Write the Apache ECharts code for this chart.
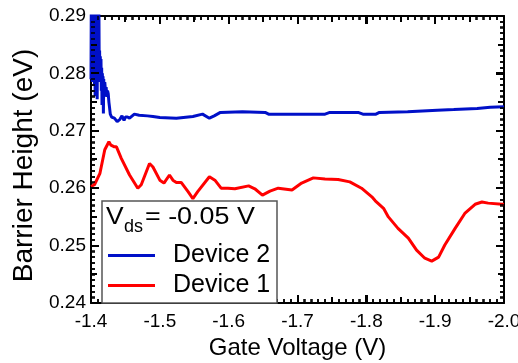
<!DOCTYPE html>
<html><head><meta charset="utf-8">
<script src="https://cdn.jsdelivr.net/npm/echarts@6/dist/echarts.min.js"></script>
<style>html,body{margin:0;padding:0;background:#fff}#c{width:518px;height:363px}</style>
</head><body><div id="c"></div>
<script>
// Gate voltage (V) and barrier height (eV)
const device1V = [-1.400,-1.405,-1.413,-1.420,-1.426,-1.429,-1.431,-1.434,-1.437,-1.444,-1.456,-1.468,-1.473,-1.485,-1.490,-1.500,-1.506,-1.514,-1.519,-1.524,-1.531,-1.541,-1.548,-1.555,-1.572,-1.580,-1.589,-1.599,-1.609,-1.629,-1.638,-1.649,-1.660,-1.672,-1.692,-1.706,-1.723,-1.740,-1.759,-1.776,-1.793,-1.808,-1.813,-1.825,-1.832,-1.846,-1.861,-1.873,-1.885,-1.895,-1.905,-1.914,-1.929,-1.943,-1.958,-1.968,-1.977,-1.997,-2.000];
const device1B = [0.2603,0.2606,0.2626,0.2667,0.2681,0.2675,0.2678,0.2672,0.2672,0.2652,0.2623,0.2600,0.2606,0.2643,0.2637,0.2614,0.2609,0.2623,0.2614,0.2610,0.2610,0.2594,0.2582,0.2594,0.2620,0.2614,0.2600,0.2600,0.2599,0.2604,0.2599,0.2588,0.2595,0.2600,0.2597,0.2609,0.2618,0.2616,0.2615,0.2611,0.2600,0.2585,0.2578,0.2565,0.2550,0.2530,0.2513,0.2492,0.2478,0.2473,0.2480,0.2501,0.2530,0.2556,0.2572,0.2576,0.2574,0.2572,0.2572];
const device2V = [-1.4000,-1.4005,-1.4010,-1.4015,-1.4020,-1.4025,-1.4030,-1.4035,-1.4040,-1.4045,-1.4050,-1.4055,-1.4060,-1.4065,-1.4070,-1.4075,-1.4080,-1.4085,-1.4090,-1.4095,-1.4100,-1.4105,-1.4110,-1.4115,-1.4120,-1.4125,-1.4130,-1.4135,-1.4140,-1.4145,-1.4150,-1.4155,-1.4160,-1.4165,-1.4170,-1.4175,-1.4180,-1.4185,-1.4190,-1.4200,-1.4210,-1.4220,-1.4230,-1.4240,-1.4250,-1.4260,-1.4270,-1.4280,-1.4300,-1.4340,-1.4380,-1.4420,-1.4450,-1.4480,-1.4500,-1.4530,-1.4560,-1.4630,-1.4700,-1.4820,-1.4900,-1.5000,-1.5240,-1.5480,-1.5620,-1.5720,-1.5790,-1.5880,-1.6200,-1.6530,-1.6580,-1.7400,-1.7470,-1.7880,-1.7950,-1.8140,-1.8190,-1.8600,-1.9030,-1.9270,-1.9610,-1.9800,-2.0000];
const device2B = [0.2790,0.2950,0.2800,0.2950,0.2785,0.2950,0.2810,0.2950,0.2795,0.2950,0.2780,0.2920,0.2760,0.2900,0.2770,0.2950,0.2790,0.2900,0.2755,0.2880,0.2800,0.2950,0.2785,0.2910,0.2800,0.2840,0.2790,0.2830,0.2785,0.2825,0.2770,0.2810,0.2745,0.2800,0.2770,0.2795,0.2730,0.2790,0.2760,0.2785,0.2770,0.2776,0.2759,0.2770,0.2765,0.2750,0.2740,0.2729,0.2724,0.2722,0.2716,0.2720,0.2726,0.2718,0.2724,0.2724,0.2722,0.2729,0.2727,0.2726,0.2725,0.2723,0.2722,0.2725,0.2729,0.2722,0.2726,0.2732,0.2733,0.2732,0.2729,0.2729,0.2732,0.2732,0.2729,0.2729,0.2732,0.2733,0.2736,0.2737,0.2739,0.2741,0.2742];
const seriesNames = ['Device 2', 'Device 1'];
const xTitle = 'Gate Voltage (V)';
const yTitle = 'Barrier Height (eV)';
const legendTitle = ['V', 'ds', '= -0.05 V'];

const FONT = "'Liberation Sans', Arial, sans-serif";
const zip = (a, b) => a.map((v, i) => [v, b[i]]);
const chart = echarts.init(document.getElementById('c'), null, {renderer: 'canvas'});

function axisCommon() {
  return {
    axisLine: {show: true, onZero: false, lineStyle: {color: '#000', width: 2}},
    axisTick: {show: true, inside: true, length: 8, lineStyle: {color: '#000', width: 2}},
    minorTick: {show: true, splitNumber: 10, length: 4, lineStyle: {color: '#000', width: 1.5}},
    splitLine: {show: false},
    minorSplitLine: {show: false}
  };
}
function xBase() { return Object.assign({type: 'value', min: -2.0, max: -1.4, interval: 0.1, inverse: true}, axisCommon()); }
function yBase() { return Object.assign({type: 'value', min: 0.24, max: 0.29, interval: 0.01}, axisCommon()); }

// Inside frame ticks on all four sides, placed through the axes' own scales (api.coord).
function renderFrameTicks(params, api) {
  const children = [];
  const bl = api.coord([-1.4, 0.24]), tr = api.coord([-2.0, 0.29]);
  const xl = Math.round(bl[0]), yb = Math.round(bl[1]), xr = Math.round(tr[0]), yt = Math.round(tr[1]);
  const bar = (x, y, width, height) => children.push({type: 'rect', shape: {x, y, width, height}, style: {fill: '#000'}});
  for (let i = 1; i < 60; i++) {
    const px = Math.round(api.coord([-1.4 - i * 0.01, 0.24])[0]);
    const len = i % 10 === 0 ? 8 : (i % 5 === 0 ? 6 : 4);
    const w = i % 5 === 0 ? 2 : 1.5;
    bar(px - w / 2, yb - len, w, len);
    bar(px - w / 2, yt, w, len);
  }
  for (let j = 1; j < 50; j++) {
    const py = Math.round(api.coord([-1.4, 0.24 + j * 0.001])[1]);
    const len = j % 10 === 0 ? 8 : (j % 5 === 0 ? 6 : 4);
    const w = j % 5 === 0 ? 2 : 1.5;
    bar(xl, py - w / 2, len, w);
    bar(xr - len, py - w / 2, len, w);
  }
  return {type: 'group', children};
}

chart.setOption({
  animation: false,
  backgroundColor: '#fff',
  grid: {left: 91, right: 14, top: 16, bottom: 60, containLabel: false, outerBoundsMode: 'none'},
  xAxis: [
    Object.assign(xBase(), {
      position: 'bottom',
      name: xTitle, nameLocation: 'middle', nameGap: 33,
      nameTextStyle: {fontFamily: FONT, fontSize: 24, color: '#000'},
      axisLabel: {formatter: v => v.toFixed(1), fontFamily: FONT, fontSize: 19, color: '#000', margin: 9}
    }),
    Object.assign(xBase(), {position: 'top', axisLabel: {show: false}})
  ],
  yAxis: [
    Object.assign(yBase(), {
      position: 'left',
      name: yTitle, nameLocation: 'middle', nameGap: 52,
      nameTextStyle: {fontFamily: FONT, fontSize: 28, color: '#000', padding: [0, 12, 0, 0]},
      axisLabel: {formatter: v => v.toFixed(2), fontFamily: FONT, fontSize: 19, color: '#000', margin: 5}
    }),
    Object.assign(yBase(), {position: 'right', axisLabel: {show: false}})
  ],
  legend: {
    show: true, orient: 'vertical', left: 103, top: 238,
    data: seriesNames, icon: 'rect', itemWidth: 47, itemHeight: 3, itemGap: 5,
    textStyle: {fontFamily: FONT, fontSize: 25, color: '#000', padding: [0, 0, 0, 13]},
    z: 110
  },
  graphic: [
    {type: 'rect', z: 100, shape: {x: 102, y: 201, width: 175, height: 102},
     style: {fill: '#fff', stroke: '#555', lineWidth: 1.5}},
    {type: 'text', z: 101, x: 106, y: 217, scaleX: 1.1, style: {text: legendTitle[0], font: '24px ' + FONT, fill: '#000', textVerticalAlign: 'middle'}},
    {type: 'text', z: 101, x: 124, y: 227, style: {text: legendTitle[1], font: '18px ' + FONT, fill: '#000', textVerticalAlign: 'middle'}},
    {type: 'text', z: 101, x: 145, y: 217, scaleX: 1.12, style: {text: legendTitle[2], font: '24px ' + FONT, fill: '#000', textVerticalAlign: 'middle'}}
  ],
  series: [
    {name: seriesNames[0], type: 'line', data: zip(device2V, device2B), showSymbol: false, symbol: 'none',
     clip: true, color: '#0010C8', lineStyle: {color: '#0010C8', width: 3}, z: 3},
    {name: seriesNames[1], type: 'line', data: zip(device1V, device1B), showSymbol: false, symbol: 'none',
     clip: true, color: '#FF0000', lineStyle: {color: '#FF0000', width: 3}, z: 2},
    {name: 'frame ticks', type: 'custom', data: [[-1.4, 0.24]], renderItem: renderFrameTicks,
     clip: false, z: 4, silent: true, tooltip: {show: false}}
  ]
});
</script></body></html>
